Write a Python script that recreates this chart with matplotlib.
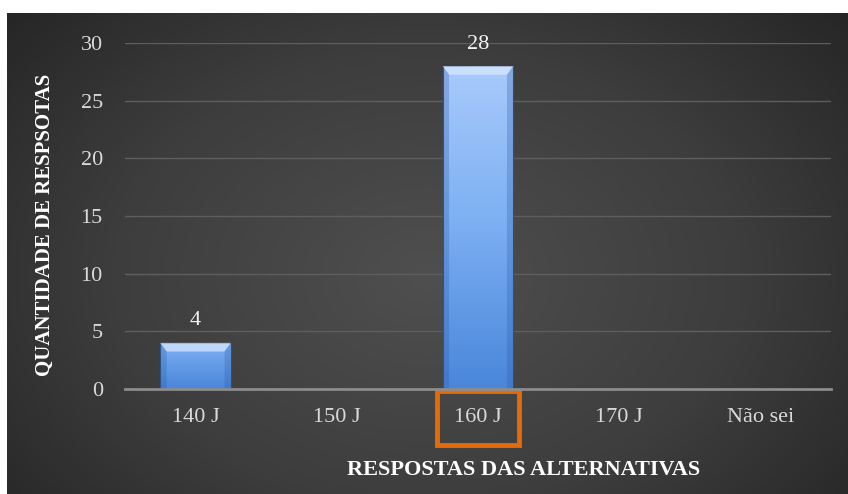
import numpy as np
import matplotlib.pyplot as plt
from matplotlib.colors import LinearSegmentedColormap
from matplotlib.patches import Polygon

categories = ["140 J", "150 J", "160 J", "170 J", "Não sei"]
values = [4, 0, 28, 0, 0]
y_ticks = [0, 5, 10, 15, 20, 25, 30]
highlight = "160 J"

plt.rcParams["font.family"] = ["Liberation Serif", "DejaVu Serif"]

fig = plt.figure(figsize=(8.48, 4.94), dpi=100, facecolor="white")

# dark radial background panel
bg = fig.add_axes([7 / 848, 0, 841 / 848, 481 / 494], zorder=0)
yy, xx = np.mgrid[0:1:300j, 0:1:500j]
r = np.sqrt(((xx - 0.5) / 0.75) ** 2 + ((yy - 0.55) / 0.95) ** 2)
bg_cmap = LinearSegmentedColormap.from_list("bg", ["#4f4f4f", "#3d3d3d", "#1f1f1f"])
bg.imshow(np.clip(r, 0, 1), cmap=bg_cmap, aspect="auto", extent=[0, 1, 0, 1], vmin=0, vmax=1)
bg.axis("off")

ax = fig.add_axes([125 / 848, 105 / 494, 706 / 848, 346 / 494], zorder=1)
ax.patch.set_alpha(0)

x = np.arange(len(categories))
width = 0.5
ax.set_xlim(-0.5, len(categories) - 0.5)
ax.set_ylim(0, 30)

bar_cmap = LinearSegmentedColormap.from_list("bar", ["#4a86da", "#7db0f3", "#acccfc"])
bars = ax.bar(x, values, width=width, color="none", edgecolor="#2f4f7a", linewidth=0.8, zorder=3)
for b, v in zip(bars, values):
    if v <= 0:
        continue
    x0 = b.get_x()
    x1 = x0 + b.get_width()
    grad = np.linspace(0, 0.45 + 0.55 * v / 30, 100).reshape(-1, 1)
    im = ax.imshow(grad, cmap=bar_cmap, vmin=0, vmax=1, origin="lower", aspect="auto",
                   extent=[x0, x1, 0, v], zorder=2)
    im.set_clip_path(b)
    # bevel on top
    bev = 0.75
    bx = 0.045
    top = Polygon([[x0, v], [x1, v], [x1 - bx, v - bev], [x0 + bx, v - bev]],
                  closed=True, facecolor="#dceaff", alpha=0.7, edgecolor="none", zorder=3)
    ax.add_patch(top)
    left = Polygon([[x0, v], [x0 + bx, v - bev], [x0 + bx, 0], [x0, 0]],
                   closed=True, facecolor="#2f5fa8", alpha=0.3, edgecolor="none", zorder=3)
    right = Polygon([[x1, v], [x1 - bx, v - bev], [x1 - bx, 0], [x1, 0]],
                    closed=True, facecolor="#2f5fa8", alpha=0.3, edgecolor="none", zorder=3)
    ax.add_patch(left)
    ax.add_patch(right)
    ax.annotate(str(v), (b.get_x() + b.get_width() / 2, v), xytext=(0, 9), textcoords="offset points",
                ha="center", va="bottom", color="#f2f2f2", fontsize=16)

ax.set_yticks(y_ticks)
ax.set_xticks(x)
ax.set_xticklabels(categories)
ax.yaxis.grid(True, color="#5e5e5e", linewidth=1)
ax.set_axisbelow(True)
for s in ["top", "right", "left"]:
    ax.spines[s].set_visible(False)
ax.spines["bottom"].set_color("#8c8c8c")
ax.spines["bottom"].set_linewidth(2)
ax.spines["bottom"].set_zorder(4)
ax.tick_params(axis="both", length=0, colors="#d9d9d9", labelsize=16)
ax.tick_params(axis="y", pad=16)
ax.tick_params(axis="x", pad=14)

for lbl in ax.get_xticklabels():
    if lbl.get_text() == highlight:
        lbl.set_bbox(dict(boxstyle="square,pad=0.78", facecolor="none", edgecolor="#e36c09", linewidth=3.5))

fig.text(45 / 848, 1 - 225 / 494, "QUANTIDADE DE RESPSOTAS", rotation=90, ha="center", va="center",
         color="white", fontsize=15, fontweight="bold")
fig.text(524 / 848, 1 - 470 / 494, "RESPOSTAS DAS ALTERNATIVAS", ha="center", va="center",
         color="white", fontsize=16, fontweight="bold")

fig.savefig("out.png", dpi=100, facecolor="white")
